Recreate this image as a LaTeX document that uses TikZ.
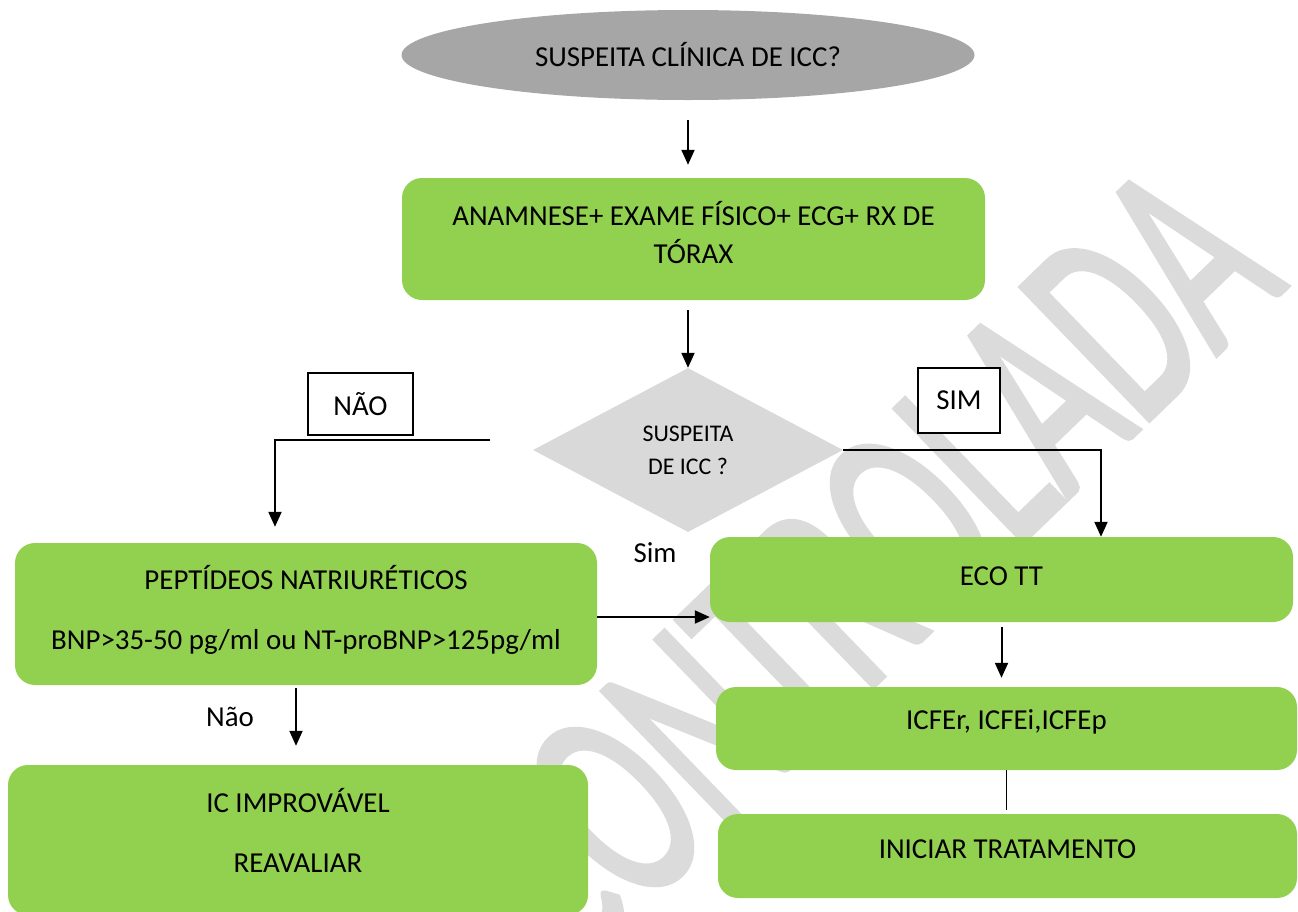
\documentclass[tikz,border=0pt]{standalone}
\usepackage{fontspec}
\setmainfont{Carlito}
\newfontfamily\markfont[FakeBold=2]{Carlito}
\usepackage{graphicx}
\usetikzlibrary{shapes.geometric,arrows.meta}
\definecolor{boxgreen}{RGB}{146,208,80}
\definecolor{ovalgray}{RGB}{166,166,166}
\definecolor{diagray}{RGB}{217,217,217}
\definecolor{markgray}{RGB}{219,219,219}
\def\mainsize{\fontsize{28.9}{38}\selectfont}
\tikzset{
	greenbox/.style={fill=boxgreen, rounded corners=20pt, inner sep=0pt, align=center, font=\mainsize},
	tagbox/.style={draw=black, line width=1.4pt, fill=white, inner sep=0pt, font=\mainsize},
	arrow/.style={line width=2pt, -{Triangle[length=15pt,width=13pt]}}
}

\begin{document}
\begin{tikzpicture}[x=1pt, y=-1pt]
		%%%%% START %%%%%
		\useasboundingbox (0,0) rectangle (1298,911);
		
		\node[rotate=44, inner sep=0pt, text=markgray, font=\markfont\fontsize{287}{287}\selectfont] (mark) at (866,565) {\scalebox{0.61}[1]{CONTROLADA}};
		
		\node[ellipse, fill=ovalgray, minimum width=573pt, minimum height=90pt, inner sep=0pt, font=\mainsize] (top) at (688,55) {SUSPEITA CLÍNICA DE ICC?};
		\node[greenbox, minimum width=583pt, minimum height=122pt, text depth=14pt] (anam) at (693.5,239) {ANAMNESE+ EXAME FÍSICO+ ECG+ RX DE\\TÓRAX};
		\node[diamond, fill=diagray, minimum width=310pt, minimum height=164pt, inner sep=0pt, align=center, font=\fontsize{23.9}{33}\selectfont] (dia) at (688,450) {SUSPEITA\\DE ICC ?};
		
		\node[tagbox, minimum width=105pt, minimum height=62pt] (nao) at (360.5,404) {NÃO};
		\node[tagbox, minimum width=82pt, minimum height=65pt] (sim) at (959,400.5) {SIM};
		
		\node[greenbox, minimum width=582pt, minimum height=142pt, text depth=14pt] (pept) at (306,614) {PEPTÍDEOS NATRIURÉTICOS\\[22pt]BNP>35-50 pg/ml ou NT-proBNP>125pg/ml};
		\node[greenbox, minimum width=583pt, minimum height=85pt, text depth=6pt] (eco) at (1001.5,579.5) {ECO TT};
		\node[greenbox, minimum width=581pt, minimum height=83pt, text depth=17pt] (icf) at (1006.5,728.5) {ICFEr, ICFEi,ICFEp};
		\node[greenbox, minimum width=579pt, minimum height=84pt, text depth=14pt] (ini) at (1007.5,856) {INICIAR TRATAMENTO};
		\node[greenbox, minimum width=580pt, minimum height=150pt, text depth=20pt] (ic) at (298,840) {IC IMPROVÁVEL\\[22pt]REAVALIAR};
		
		\node[font=\mainsize] (simlbl) at (655,553) {Sim};
		\node[font=\mainsize] (naolbl) at (230,717) {Não};
		
		\coordinate (naostart) at (490,440);
		\coordinate (naoend) at ([xshift=-31pt]pept.north);
		\coordinate (simend) at ([xshift=99.5pt]eco.north);
		\coordinate (peptright) at ([yshift=-3pt]pept.east);
		\coordinate (peptout) at ([xshift=-10pt]pept.south);
		
		\draw[arrow, shorten <=20pt, shorten >=13pt] (top.south) -- (top.south |- anam.north);
		\draw[arrow, shorten <=10pt] (anam.south -| dia.north) -- (dia.north);
		\draw[arrow, shorten >=16pt] (naostart) -| (naoend);
		\draw[arrow] (dia.east) -| (simend);
		\draw[arrow] (peptright) -- (peptright -| eco.west);
		\draw[arrow, shorten <=5pt, shorten >=9pt] (eco.south) -- (eco.south |- icf.north);
		\draw[line width=1.2pt, shorten >=4pt] (icf.south) -- (icf.south |- ini.north);
		\draw[arrow, shorten <=3pt, shorten >=19pt] (peptout) -- (peptout |- ic.north);
		
		%%%%% END %%%%%
	\end{tikzpicture}
\end{document}
